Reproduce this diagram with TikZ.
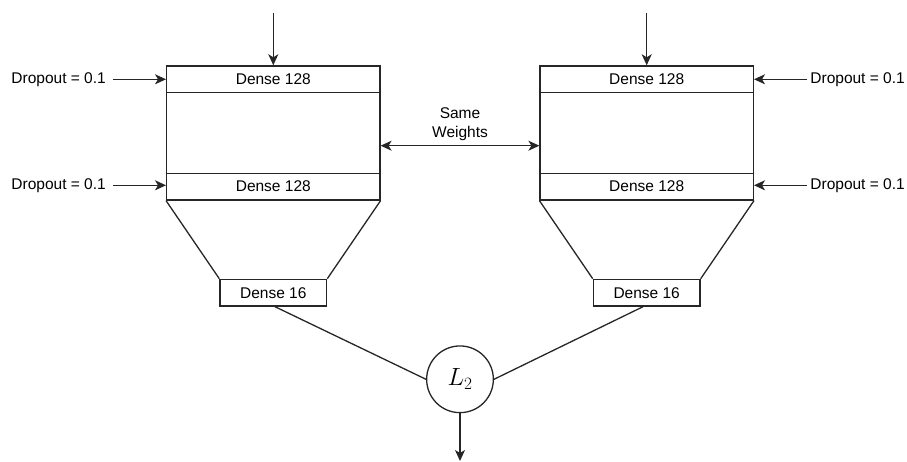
\documentclass[tikz,border=0pt]{standalone}
\usepackage{fontspec}
\setmainfont{Liberation Sans}
\usetikzlibrary{arrows.meta}
\begin{document}
\begin{tikzpicture}[x=1pt,y=1pt,
  ink/.style={draw=black!85, line width=1.3pt},
  box/.style={ink, rectangle, inner sep=0pt, font=\fontsize{15.5}{18}\selectfont},
  lbl/.style={inner ysep=2pt, font=\fontsize{15.5}{18}\selectfont},
  tip/.tip={Stealth[length=11pt,width=10pt,inset=3pt]},
  arr/.style={ink, -tip},
  darr/.style={ink, tip-tip}]
\useasboundingbox (0,0) rectangle (907,-462);

% left tower
\node[box, minimum width=213.3pt, minimum height=134pt] (Lbody) at (273.3,-133) {};
\node[box, minimum width=213.3pt, minimum height=26.7pt] (Ld1) at (273.3,-79.3) {Dense 128};
\node[box, minimum width=213.3pt, minimum height=26.7pt] (Ld2) at (273.3,-186.6) {Dense 128};
\node[box, minimum width=106.7pt, minimum height=26.7pt] (Ld3) at (273.3,-292.7) {Dense 16};
\draw[ink] (Ld2.south west) -- (Ld3.north west);
\draw[ink] (Ld2.south east) -- (Ld3.north east);

% right tower
\node[box, minimum width=213.3pt, minimum height=134pt] (Rbody) at (646.7,-133) {};
\node[box, minimum width=213.3pt, minimum height=26.7pt] (Rd1) at (646.7,-79.3) {Dense 128};
\node[box, minimum width=213.3pt, minimum height=26.7pt] (Rd2) at (646.7,-186.6) {Dense 128};
\node[box, minimum width=106.7pt, minimum height=26.7pt] (Rd3) at (646.7,-292.7) {Dense 16};
\draw[ink] (Rd2.south west) -- (Rd3.north west);
\draw[ink] (Rd2.south east) -- (Rd3.north east);

% inputs
\coordinate (Lin) at (273.3,-13);
\coordinate (Rin) at (646.7,-13);
\draw[arr] (Lin) -- (Ld1.north);
\draw[arr] (Rin) -- (Rd1.north);

% dropout labels
\node[lbl, anchor=east, inner xsep=7pt] (Ldo1) at (113,-79.3) {Dropout = 0.1};
\node[lbl, anchor=east, inner xsep=7pt] (Ldo2) at (113,-185.3) {Dropout = 0.1};
\node[lbl, anchor=west, inner xsep=3.5pt] (Rdo1) at (806.7,-79.3) {Dropout = 0.1};
\node[lbl, anchor=west, inner xsep=3.5pt] (Rdo2) at (806.7,-185.3) {Dropout = 0.1};
\draw[arr] (Ldo1.east) -- (Ld1.west);
\draw[arr] (Ldo2.east) -- (Ldo2.east -| Ld2.west);
\draw[arr] (Rdo1.west) -- (Rd1.east);
\draw[arr] (Rdo2.west) -- (Rdo2.west -| Rd2.east);

% shared weights
\node[lbl, align=center, font=\fontsize{15.5}{19.5}\selectfont] (sw) at (460,-124) {Same\\Weights};
\draw[darr] ([yshift=-12.7pt]Lbody.east) -- ([yshift=-12.7pt]Rbody.west);

% distance
\node[ink, circle, minimum size=66.7pt, inner sep=0pt, font=\fontsize{27}{30}\selectfont] (L2) at (460,-379.3) {$L_2$};
\draw[ink] ([xshift=1.7pt]Ld3.south) -- (L2.west);
\draw[ink] ([xshift=-3.7pt]Rd3.south) -- (L2.east);
\coordinate (out) at (460,-461);
\draw[arr] (L2.south) -- (out);
\end{tikzpicture}
\end{document}
